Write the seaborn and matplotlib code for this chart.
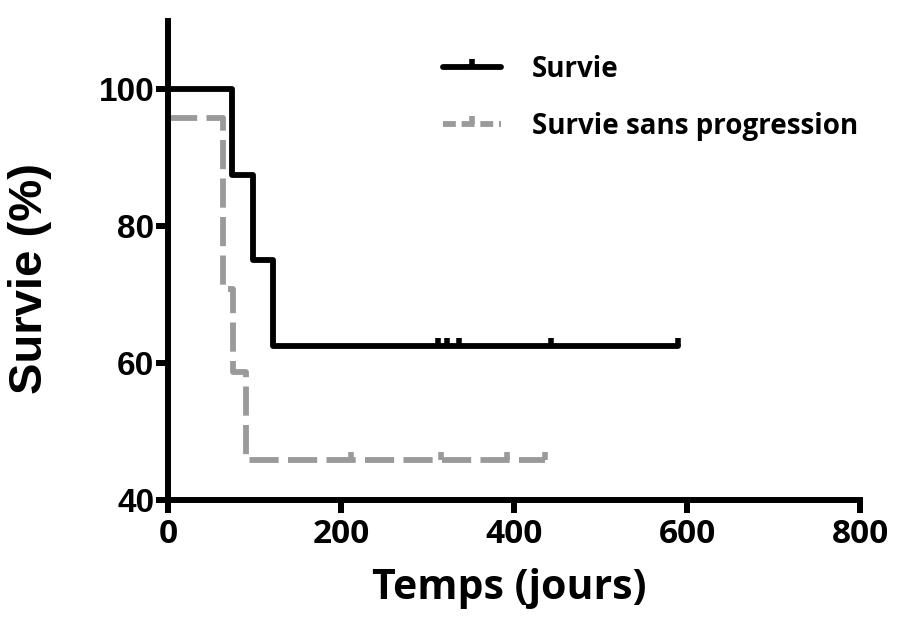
"""
Courbes de survie (Kaplan-Meier) : survie globale et survie sans progression
"""

import matplotlib
matplotlib.use("Agg")
import matplotlib.pyplot as plt
from matplotlib.lines import Line2D
import seaborn as sns

sns.set_style("ticks")
plt.rcParams.update({
    "text.color": "black",
    "axes.labelcolor": "black",
    "xtick.color": "black",
    "ytick.color": "black",
})

# survie globale
os_time = [0, 74, 98, 121, 590]
os_surv = [100, 87.5, 75, 62.5, 62.5]
os_censor_time = [312, 322, 336, 443, 590]
os_censor_surv = [62.5, 62.5, 62.5, 62.5, 62.5]

# survie sans progression
pfs_time = [0, 64, 75, 90, 436]
pfs_surv = [95.8, 70.8, 58.7, 45.8, 45.8]
pfs_censor_time = [212, 316, 392, 436]
pfs_censor_surv = [45.8, 45.8, 45.8, 45.8]

labels = ["Survie", "Survie sans progression"]
x_ticks = [0, 200, 400, 600, 800]
y_ticks = [40, 60, 80, 100]
x_lim = (0, 800)
y_lim = (40, 110)

black = "#000000"
grey = "#9a9a9a"
lw = 4.2

fig = plt.figure(figsize=(9.01, 6.28), dpi=100)
ax = fig.add_axes([0.1865, 0.2038, 0.768, 0.763])

sns.lineplot(x=pfs_time, y=pfs_surv, ax=ax, color=grey, lw=lw,
             drawstyle="steps-post", estimator=None, sort=False,
             dashes=False, linestyle=(0, (5.0, 1.6)))
ax.plot(pfs_censor_time, pfs_censor_surv, ls="none", marker=2,
        ms=6, mew=4, color=grey)

sns.lineplot(x=os_time, y=os_surv, ax=ax, color=black, lw=lw,
             drawstyle="steps-post", estimator=None, sort=False)
ax.plot(os_censor_time, os_censor_surv, ls="none", marker=2,
        ms=6, mew=4, color=black)

# tick marks as outward markers on the spines (axis ticks were not showing)
ax.plot(x_ticks, [y_lim[0]] * len(x_ticks), ls="none", marker=3,
        ms=9, mew=4.3, color=black, clip_on=False, zorder=5)
ax.plot([x_lim[0]] * len(y_ticks), y_ticks, ls="none", marker=0,
        ms=9, mew=4.3, color=black, clip_on=False, zorder=5)

ax.set_xlim(*x_lim)
ax.set_ylim(*y_lim)
ax.set_xticks(x_ticks)
ax.set_yticks(y_ticks)

for side in ["top", "right"]:
    ax.spines[side].set_visible(False)
for side in ["left", "bottom"]:
    ax.spines[side].set_linewidth(4.3)
    ax.spines[side].set_color(black)

ax.tick_params(axis="x", direction="out", length=9, width=4.3,
               color=black, bottom=True, pad=4)
ax.tick_params(axis="y", direction="out", length=9, width=4.3,
               color=black, left=True, pad=1)

for t in ax.get_xticklabels():
    t.set_fontfamily(["Open Sans", "DejaVu Sans"])
    t.set_fontweight("bold")
    t.set_fontsize(24)
for t in ax.get_yticklabels():
    t.set_fontfamily(["Liberation Sans", "DejaVu Sans"])
    t.set_fontweight("bold")
    t.set_fontsize(24)

ax.set_xlabel("Temps (jours)", fontsize=29.5, fontweight="bold",
              family=["Open Sans", "DejaVu Sans"], va="center", ha="center")
ax.xaxis.set_label_coords(0.493, -0.185)
ax.set_ylabel("Survie (%)", fontsize=34, fontweight="bold",
              family=["Liberation Sans", "DejaVu Sans"], va="center", ha="center")
ax.yaxis.set_label_coords(-0.2, 0.4625)

handles = [
    Line2D([], [], color=black, lw=lw, marker=2, ms=6, mew=4),
    Line2D([], [], color=grey, lw=lw, ls=(0, (2.2, 1.0)), marker=2, ms=6, mew=4),
]
leg = fig.legend(handles, labels, loc="upper left",
                 bbox_to_anchor=(443 / 901, 1 - 55 / 628),
                 frameon=False, borderpad=0, borderaxespad=0,
                 handlelength=2.1, handletextpad=1.1, labelspacing=1.0,
                 numpoints=1,
                 prop={"family": ["Open Sans", "DejaVu Sans"],
                       "weight": "bold", "size": 20})

fig.savefig("out.png", dpi=100)
